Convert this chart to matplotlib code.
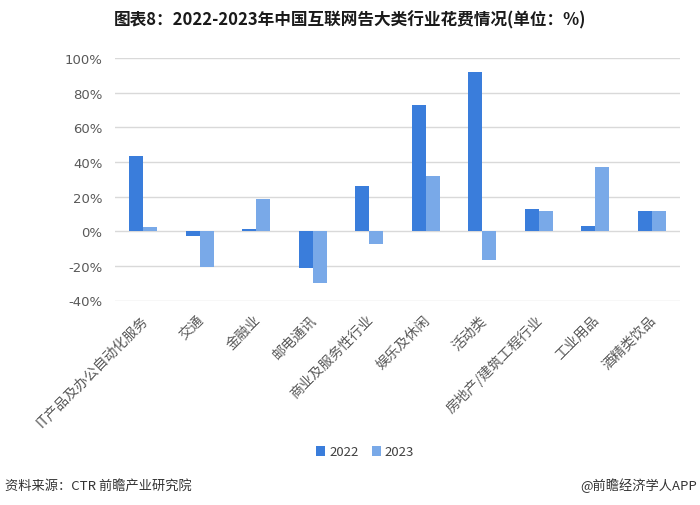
import matplotlib
matplotlib.use("Agg")
import matplotlib.pyplot as plt
import matplotlib.transforms as mtransforms
import numpy as np

plt.rcParams['font.family'] = ['Noto Sans CJK SC', 'DejaVu Sans']

categories = ["IT产品及办公自动化服务", "交通", "金融业", "邮电通讯", "商业及服务性行业",
              "娱乐及休闲", "活动类", "房地产/建筑工程行业", "工业用品", "酒精类饮品"]
v2022 = [43.5, -2.5, 1.3, -21.2, 26.2, 72.8, 91.9, 13.1, 3.1, 11.9]
v2023 = [2.5, -20.4, 18.7, -30.0, -7.3, 31.8, -16.4, 11.9, 37.3, 11.9]
series_names = ["2022", "2023"]
yticks = [-40, -20, 0, 20, 40, 60, 80, 100]
ytick_labels = ["-40%", "-20%", "0%", "20%", "40%", "60%", "80%", "100%"]

c2022 = "#3a7ddb"
c2023 = "#79a9e8"

fig = plt.figure(figsize=(7.0, 5.06), dpi=100)
ax = fig.add_axes([115/700, 1-301.5/506, (680-115)/700, (301.5-59)/506])

x = np.arange(len(categories))
w = 0.25
ax.bar(x - w/2, v2022, width=w, color=c2022, label=series_names[0], zorder=3)
ax.bar(x + w/2, v2023, width=w, color=c2023, label=series_names[1], zorder=3)

ax.set_xlim(-0.5, len(categories) - 0.5)
ax.set_ylim(-40, 100)
ax.set_yticks(yticks)
ax.set_yticklabels(ytick_labels, color="#595959", fontsize=9.5, family=['DejaVu Sans'])
ax.yaxis.grid(True, color="#d9d9d9", linewidth=1, zorder=0)
ax.set_axisbelow(True)
for s in ax.spines.values():
    s.set_visible(False)
ax.tick_params(axis='both', length=0)
ax.tick_params(axis='y', pad=9)

ax.set_xticks(x)
ax.set_xticklabels(categories, rotation=45, ha='right', va='center',
                   rotation_mode='anchor', fontsize=10, color="#595959")
ax.tick_params(axis='x', pad=12)
offset = mtransforms.ScaledTranslation(2/100, 0, fig.dpi_scale_trans)
for lab in ax.get_xticklabels():
    lab.set_transform(lab.get_transform() + offset)

fig.text(0.5, 1-20/506, "图表8：2022-2023年中国互联网告大类行业花费情况(单位：%)",
         ha='center', va='center', fontsize=12, fontweight='bold', color="#1a1a1a")

leg = fig.legend(loc='center', bbox_to_anchor=(365/700, 1-453/506), ncol=2,
                 frameon=False, fontsize=9.5, handlelength=0.7, handleheight=0.7,
                 handletextpad=0.3, columnspacing=1.0)
for t in leg.get_texts():
    t.set_color("#404040")

fig.text(5/700, 1-486/506, "资料来源：CTR 前瞻产业研究院", ha='left', va='center',
         fontsize=9.5, color="#333333")
fig.text(697/700, 1-486/506, "@前瞻经济学人APP", ha='right', va='center',
         fontsize=9.5, color="#333333")

fig.savefig("out.png", dpi=100)
